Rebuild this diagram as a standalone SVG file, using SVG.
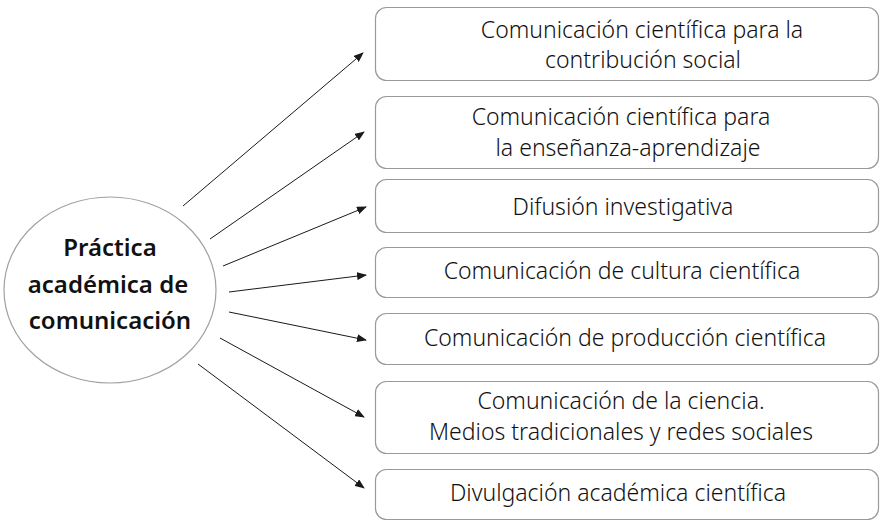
<svg xmlns="http://www.w3.org/2000/svg" width="885" height="525" viewBox="0 0 885 525">
<defs>
<marker id="ah" markerWidth="10" markerHeight="8" refX="9" refY="4" orient="auto" markerUnits="userSpaceOnUse">
<path d="M0,0 L10,4 L0,8 Z" fill="#1a1a1a"/>
</marker>
<style>
.box{fill:#fff;stroke:#9a9a9a;stroke-width:1.2}
.t{font-family:"Noto Sans","Open Sans","Liberation Sans",sans-serif;font-size:23px;font-weight:300;fill:#111;text-anchor:middle}
.c{font-family:"Noto Sans","Open Sans","Liberation Sans",sans-serif;font-size:24px;font-weight:600;fill:#111;text-anchor:middle}
.e{stroke:#1a1a1a;stroke-width:1;fill:none;marker-end:url(#ah)}
</style>
</defs>
<rect width="885" height="525" fill="#fff"/>
<g id="center">
<ellipse cx="110" cy="290" rx="106" ry="93" fill="#fff" stroke="#a0a0a0" stroke-width="1.2"/>
<text class="c" x="110" y="256">Práctica</text>
<text class="c" x="108" y="293">académica de</text>
<text class="c" x="110" y="329">comunicación</text>
</g>
<g id="connectors">
<line class="e" x1="183" y1="206" x2="363" y2="53"/>
<line class="e" x1="210" y1="239" x2="364" y2="132"/>
<line class="e" x1="223" y1="266" x2="366" y2="207"/>
<line class="e" x1="229" y1="292" x2="366" y2="275"/>
<line class="e" x1="229" y1="312" x2="366" y2="340"/>
<line class="e" x1="220" y1="338" x2="364" y2="417"/>
<line class="e" x1="198" y1="364" x2="364" y2="488"/>
</g>
<g id="n1">
<rect class="box" x="375.5" y="7.5" width="503" height="73" rx="11"/>
<text class="t" x="642" y="38">Comunicación científica para la</text>
<text class="t" x="643" y="68">contribución social</text>
</g>
<g id="n2">
<rect class="box" x="375.5" y="96.5" width="503" height="72" rx="11"/>
<text class="t" x="621" y="125">Comunicación científica para</text>
<text class="t" x="628" y="156">la enseñanza-aprendizaje</text>
</g>
<g id="n3">
<rect class="box" x="375.5" y="179.5" width="503" height="53" rx="11"/>
<text class="t" x="623" y="215">Difusión investigativa</text>
</g>
<g id="n4">
<rect class="box" x="375.5" y="247.5" width="503" height="50" rx="11"/>
<text class="t" x="622" y="279">Comunicación de cultura científica</text>
</g>
<g id="n5">
<rect class="box" x="375.5" y="313.5" width="503" height="51" rx="11"/>
<text class="t" x="625" y="346">Comunicación de producción científica</text>
</g>
<g id="n6">
<rect class="box" x="375.5" y="381.5" width="503" height="72" rx="11"/>
<text class="t" x="621" y="409">Comunicación de la ciencia.</text>
<text class="t" x="621" y="440">Medios tradicionales y redes sociales</text>
</g>
<g id="n7">
<rect class="box" x="375.5" y="469.5" width="503" height="50" rx="11"/>
<text class="t" x="618" y="501">Divulgación académica científica</text>
</g>
</svg>
